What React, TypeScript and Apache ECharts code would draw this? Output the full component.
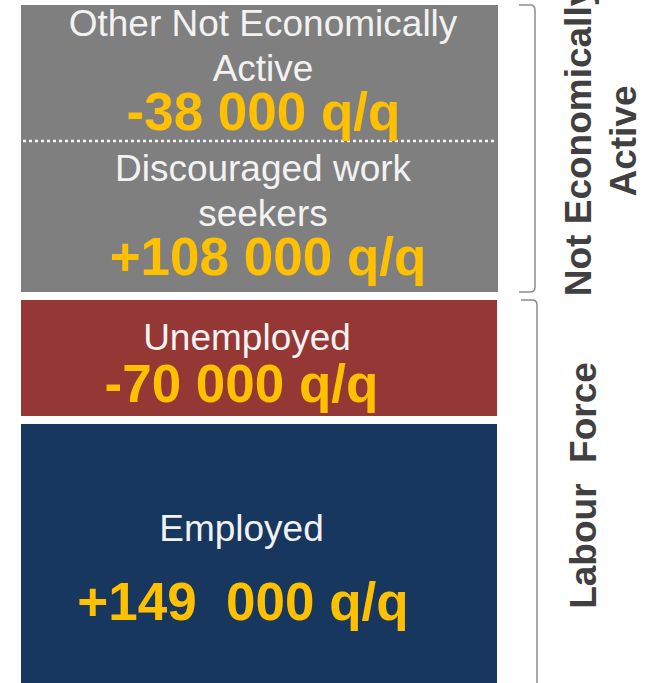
import React, { useEffect, useRef } from 'react';
import * as echarts from 'echarts';

// ---- data ----
const categories = ['Other Not Economically\nActive', 'Discouraged work\nseekers', 'Unemployed', 'Employed'];
const changeLabels = ['-38 000 q/q', '+108 000 q/q', '-70 000 q/q', '+149  000 q/q'];
const groups = ['Not Economically\nActive', 'Labour  Force'];

// ---- layout / style (kept apart from data) ----
const FONT = "'Liberation Sans', Arial, Helvetica, sans-serif";
const LABEL_POS = [
  [263, 46.4],
  [263, 191.4],
  [247, 337.2],
  [241.5, 528.9],
];
const VALUE_POS = [
  [263.5, 111.6],
  [268, 256.6],
  [241.5, 383.6],
  [243, 601.6],
];
const GROUP_POS = [
  [601, 141],
  [583, 485.5],
];
const BOXES = [
  { x: 21, y: 5, w: 477, h: 287, color: '#7f7f7f' },
  { x: 21, y: 300, w: 476, h: 116, color: '#953735' },
  { x: 21, y: 424, w: 476, h: 270, color: '#17375e' },
];

const BracketTop = echarts.graphic.extendPath(
  'M519 5 L530 5 Q535 5 535 10 L535 287 Q535 292 530 292 L519 292',
  {}
);
echarts.graphic.registerShape('bracketTop', BracketTop);
const BracketBottom = echarts.graphic.extendPath(
  'M521 300 L532 300 Q537 300 537 305 L537 700',
  {}
);
echarts.graphic.registerShape('bracketBottom', BracketBottom);

export default function App() {
  const ref = useRef<HTMLDivElement>(null);

  useEffect(() => {
    document.body.style.margin = '0';
    if (!ref.current) return;
    const chart = echarts.init(ref.current, null, { renderer: 'svg' });

    const elements: any[] = [];
    BOXES.forEach((b) => {
      elements.push({
        type: 'rect',
        shape: { x: b.x, y: b.y, width: b.w, height: b.h },
        style: { fill: b.color },
        z: 1,
      });
    });
    elements.push({
      type: 'line',
      shape: { x1: 23, y1: 141, x2: 497, y2: 141 },
      style: { stroke: '#f4f4f4', lineWidth: 2.5, lineDash: [3, 3] },
      z: 2,
    });
    categories.forEach((c, i) => {
      elements.push({
        type: 'text',
        x: LABEL_POS[i][0],
        y: LABEL_POS[i][1],
        z: 3,
        style: {
          text: c,
          fill: '#f2f2f2',
          fontFamily: FONT,
          fontSize: 37,
          fontWeight: 'normal',
          lineHeight: 45,
          align: 'center',
          verticalAlign: 'middle',
          textAlign: 'center',
          textVerticalAlign: 'middle',
        },
      });
    });
    changeLabels.forEach((v, i) => {
      elements.push({
        type: 'text',
        x: VALUE_POS[i][0],
        y: VALUE_POS[i][1],
        z: 3,
        style: {
          text: v,
          fill: '#ffc000',
          fontFamily: FONT,
          fontSize: 53,
          fontWeight: 'bold',
          align: 'center',
          verticalAlign: 'middle',
          textAlign: 'center',
          textVerticalAlign: 'middle',
        },
      });
    });
    groups.forEach((g, i) => {
      elements.push({
        type: 'text',
        x: GROUP_POS[i][0],
        y: GROUP_POS[i][1],
        rotation: Math.PI / 2,
        z: 3,
        style: {
          text: g,
          fill: '#404040',
          fontFamily: FONT,
          fontSize: 37,
          fontWeight: 'bold',
          lineHeight: 45,
          align: 'center',
          verticalAlign: 'middle',
          textAlign: 'center',
          textVerticalAlign: 'middle',
        },
      });
    });
    elements.push({
      type: 'bracketTop',
      z: 2,
      style: { stroke: '#8c8c8c', lineWidth: 1.5, fill: 'none' },
    });
    elements.push({
      type: 'bracketBottom',
      z: 2,
      style: { stroke: '#8c8c8c', lineWidth: 1.5, fill: 'none' },
    });

    chart.setOption({
      animation: false,
      backgroundColor: '#ffffff',
      graphic: { elements },
    });

    return () => {
      chart.dispose();
    };
  }, []);

  return <div ref={ref} style={{ width: 650, height: 683 }} />;
}
